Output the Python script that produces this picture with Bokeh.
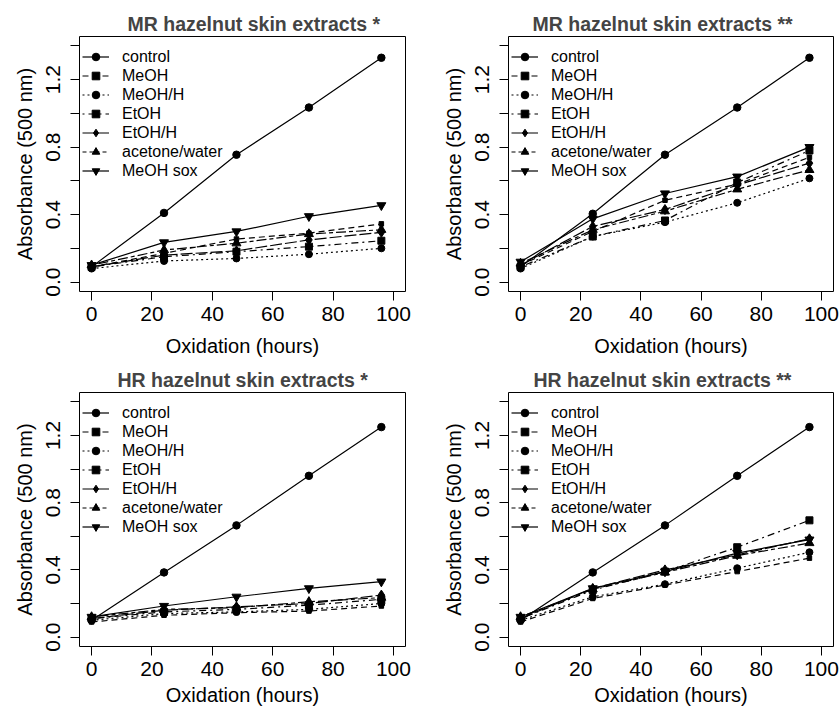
from bokeh.plotting import figure
from bokeh.layouts import column, row
from bokeh.models import Range1d, FixedTicker, Legend, LegendItem
from bokeh.embed import file_html
from bokeh.resources import INLINE

HOURS = [0, 24, 48, 72, 96]
SERIES = ["control", "MeOH", "MeOH/H", "EtOH", "EtOH/H", "acetone/water", "MeOH sox"]
X_TICKS = [0, 20, 40, 60, 80, 100]
Y_TICKS = [0.0, 0.2, 0.4, 0.6, 0.8, 1.0, 1.2, 1.4]
Y_TICK_LABELS = ["0.0", "", "0.4", "", "0.8", "", "1.2", ""]
TITLES = ["MR hazelnut skin extracts *", "MR hazelnut skin extracts **",
          "HR hazelnut skin extracts *", "HR hazelnut skin extracts **"]

# Panel 1: MR *
MR1_CONTROL = [0.09, 0.41, 0.755, 1.035, 1.33]
MR1_MEOH = [0.09, 0.17, 0.255, 0.29, 0.345]
MR1_MEOH_H = [0.08, 0.125, 0.14, 0.165, 0.20]
MR1_ETOH = [0.09, 0.15, 0.18, 0.21, 0.245]
MR1_ETOH_H = [0.09, 0.16, 0.185, 0.25, 0.295]
MR1_ACETONE = [0.10, 0.19, 0.23, 0.285, 0.31]
MR1_SOX = [0.10, 0.235, 0.30, 0.39, 0.455]

# Panel 2: MR **
MR2_CONTROL = [0.09, 0.405, 0.755, 1.035, 1.33]
MR2_MEOH = [0.10, 0.30, 0.485, 0.58, 0.74]
MR2_MEOH_H = [0.08, 0.27, 0.355, 0.47, 0.615]
MR2_ETOH = [0.09, 0.27, 0.365, 0.59, 0.78]
MR2_ETOH_H = [0.10, 0.33, 0.43, 0.575, 0.705]
MR2_ACETONE = [0.11, 0.31, 0.42, 0.55, 0.665]
MR2_SOX = [0.12, 0.375, 0.525, 0.625, 0.80]

# Panel 3: HR *
HR1_CONTROL = [0.10, 0.385, 0.665, 0.96, 1.25]
HR1_MEOH = [0.09, 0.13, 0.145, 0.155, 0.185]
HR1_MEOH_H = [0.10, 0.14, 0.15, 0.165, 0.20]
HR1_ETOH = [0.11, 0.15, 0.165, 0.19, 0.225]
HR1_ETOH_H = [0.11, 0.16, 0.18, 0.20, 0.25]
HR1_ACETONE = [0.12, 0.165, 0.175, 0.21, 0.235]
HR1_SOX = [0.12, 0.185, 0.24, 0.29, 0.33]

# Panel 4: HR **
HR2_CONTROL = [0.10, 0.385, 0.665, 0.96, 1.25]
HR2_MEOH = [0.09, 0.23, 0.31, 0.39, 0.47]
HR2_MEOH_H = [0.10, 0.24, 0.315, 0.41, 0.505]
HR2_ETOH = [0.11, 0.28, 0.39, 0.535, 0.695]
HR2_ETOH_H = [0.11, 0.29, 0.40, 0.49, 0.585]
HR2_ACETONE = [0.12, 0.285, 0.385, 0.485, 0.56]
HR2_SOX = [0.12, 0.29, 0.39, 0.50, 0.58]

PANELS = [
    [MR1_CONTROL, MR1_MEOH, MR1_MEOH_H, MR1_ETOH, MR1_ETOH_H, MR1_ACETONE, MR1_SOX],
    [MR2_CONTROL, MR2_MEOH, MR2_MEOH_H, MR2_ETOH, MR2_ETOH_H, MR2_ACETONE, MR2_SOX],
    [HR1_CONTROL, HR1_MEOH, HR1_MEOH_H, HR1_ETOH, HR1_ETOH_H, HR1_ACETONE, HR1_SOX],
    [HR2_CONTROL, HR2_MEOH, HR2_MEOH_H, HR2_ETOH, HR2_ETOH_H, HR2_ACETONE, HR2_SOX],
]

STYLES = [
    dict(dash="solid", marker="circle", size=7.5),
    dict(dash="6 4", marker="square", size=4.5),
    dict(dash="2 3", marker="circle", size=7),
    dict(dash="2 4 7 4", marker="square", size=7),
    dict(dash="12 3", marker="diamond", size=10),
    dict(dash="4 3 10 3", marker="triangle", size=9),
    dict(dash="solid", marker="inverted_triangle", size=9),
]

FONT = "Liberation Sans"


def make_panel(idx, width, height, bl, br, bt, bb, title_offset, xlab_standoff):
    p = figure(width=width, height=height, output_backend="svg", toolbar_location=None,
               x_range=Range1d(-4, 104), y_range=Range1d(-0.056, 1.456),
               min_border_left=bl, min_border_right=br, min_border_top=bt, min_border_bottom=bb,
               background_fill_color="white", border_fill_color="white")
    p.title.text = TITLES[idx]
    p.title.text_font = FONT
    p.title.text_font_size = "19.5px"
    p.title.text_font_style = "bold"
    p.title.align = "left"
    p.title.offset = title_offset
    p.title.standoff = 4
    p.outline_line_color = "black"
    p.outline_line_width = 1
    p.xgrid.visible = False
    p.ygrid.visible = False

    for ax in (p.xaxis[0], p.yaxis[0]):
        ax.axis_line_color = None
        ax.major_tick_line_color = "black"
        ax.major_tick_out = 9
        ax.major_tick_in = 0
        ax.minor_tick_line_color = None
        ax.major_label_text_font = FONT
        ax.major_label_text_font_size = "21px"
        ax.major_label_text_color = "black"
        ax.axis_label_text_font = FONT
        ax.axis_label_text_font_size = "20px"
        ax.axis_label_text_font_style = "normal"
        ax.axis_label_text_color = "black"

    p.xaxis.ticker = FixedTicker(ticks=X_TICKS)
    p.xaxis.axis_label = "Oxidation (hours)"
    p.xaxis.major_label_standoff = 6
    p.xaxis.axis_label_standoff = xlab_standoff

    p.yaxis.ticker = FixedTicker(ticks=Y_TICKS)
    p.yaxis.major_label_overrides = {t: l for t, l in zip(Y_TICKS, Y_TICK_LABELS)}
    p.yaxis.major_label_orientation = "vertical"
    p.yaxis.major_label_standoff = 10
    p.yaxis.axis_label = "Absorbance (500 nm)"
    p.yaxis.axis_label_standoff = 8

    items = []
    for name, vals, st in zip(SERIES, PANELS[idx], STYLES):
        r1 = p.line(HOURS, vals, line_color="black", line_width=1.2, line_dash=st["dash"])
        r2 = p.scatter(HOURS, vals, marker=st["marker"], size=st["size"],
                       fill_color="black", line_color="black")
        items.append(LegendItem(label=name, renderers=[r1, r2]))

    frame_h = height - bt - bb
    leg_h = 2 * 4 + 7 * 19
    legend = Legend(items=items, location=(3, frame_h - 3 - leg_h),
                    border_line_color=None, background_fill_alpha=0,
                    label_text_font=FONT, label_text_font_size="16px",
                    label_text_color="black",
                    glyph_width=27, glyph_height=19, label_height=19,
                    label_standoff=13, spacing=0, padding=4, margin=0)
    p.add_layout(legend)
    return p


p1 = make_panel(0, 433, 364, 79, 28, 36, 73, 48, 11)
p2 = make_panel(1, 406, 364, 75, 6, 36, 73, 24, 11)
p3 = make_panel(2, 433, 350, 79, 28, 28, 68, 38, 5)
p4 = make_panel(3, 406, 350, 75, 6, 28, 68, 25, 5)

layout = column(row(p1, p2), row(p3, p4))
open("out.html", "w").write(file_html(layout, INLINE))
